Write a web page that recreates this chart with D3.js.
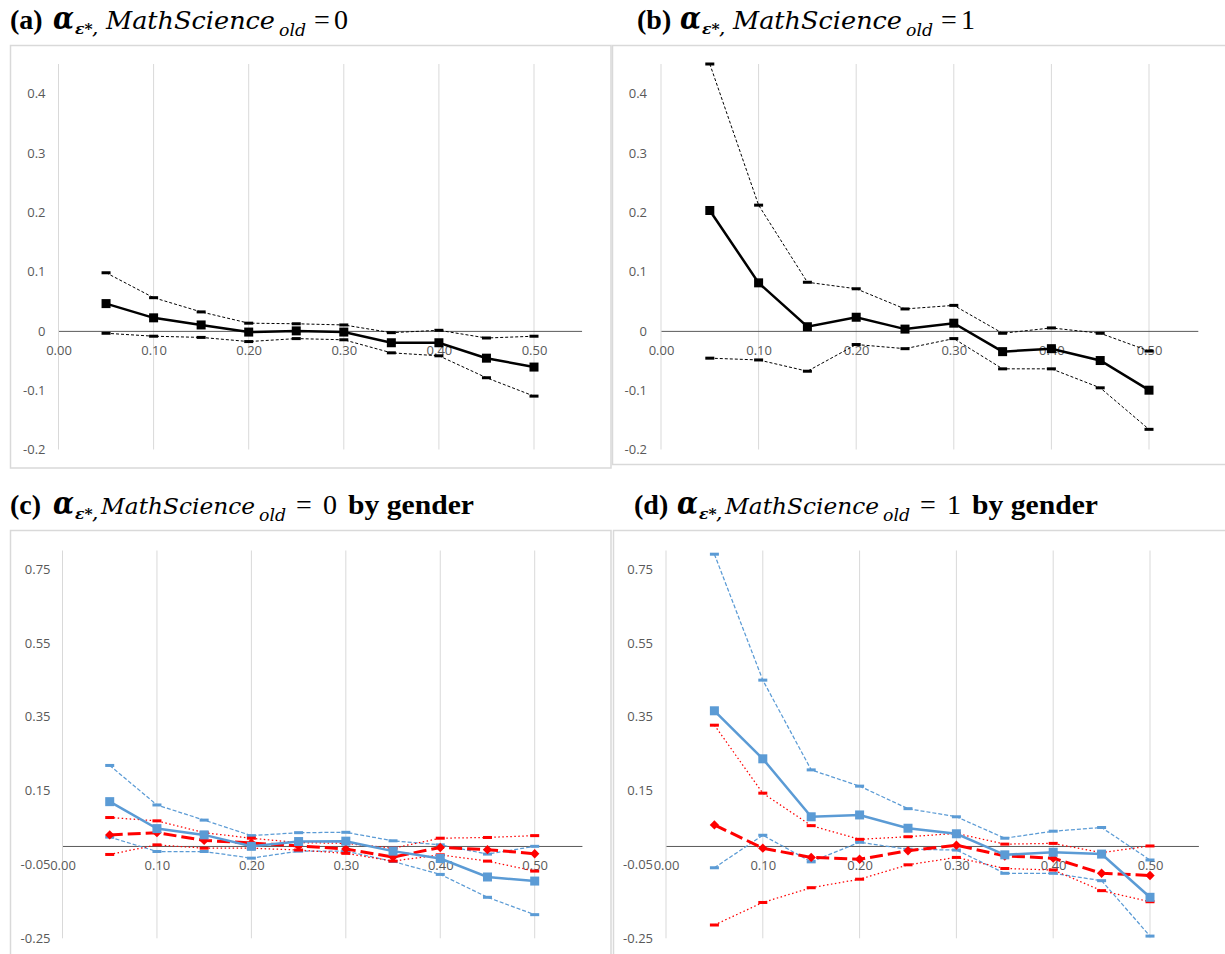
<!DOCTYPE html>
<html>
<head>
<meta charset="utf-8">
<script src="https://cdn.jsdelivr.net/npm/d3@7"></script>
<style>
  body { margin: 0; background: #fff; }
  .tick text { font-family: "Open Sans", sans-serif; font-size: 13px; fill: #595959; }
  .ttl { font-family: "Liberation Serif", serif; fill: #000; }
</style>
</head>
<body>
<script>
// x positions of the points and the axis ticks
var xVals = [0.05, 0.10, 0.15, 0.20, 0.25, 0.30, 0.35, 0.40, 0.45, 0.50];
var xTicks = [0, 0.1, 0.2, 0.3, 0.4, 0.5];
var yTicksAB = [-0.2, -0.1, 0, 0.1, 0.2, 0.3, 0.4];
var yTicksCD = [-0.25, -0.05, 0.15, 0.35, 0.55, 0.75];

// (a) MathScience_old = 0
var aMain  = [0.046, 0.022, 0.010, -0.002, 0.000, -0.002, -0.020, -0.020, -0.046, -0.061];
var aUpper = [0.098, 0.056, 0.032, 0.013, 0.012, 0.010, -0.003, 0.001, -0.012, -0.009];
var aLower = [-0.004, -0.009, -0.011, -0.018, -0.013, -0.015, -0.037, -0.042, -0.079, -0.110];

// (b) MathScience_old = 1
var bMain  = [0.203, 0.081, 0.007, 0.023, 0.003, 0.013, -0.035, -0.030, -0.050, -0.100];
var bUpper = [0.450, 0.212, 0.082, 0.071, 0.037, 0.043, -0.004, 0.005, -0.004, -0.034];
var bLower = [-0.046, -0.049, -0.068, -0.023, -0.030, -0.013, -0.064, -0.064, -0.096, -0.166];

// (c) by gender, MathScience_old = 0
var cBlue   = [0.120, 0.047, 0.030, -0.001, 0.012, 0.013, -0.014, -0.034, -0.084, -0.095];
var cBlueUp = [0.218, 0.111, 0.070, 0.028, 0.036, 0.037, 0.014, 0.003, -0.022, -0.001];
var cBlueLo = [0.024, -0.015, -0.015, -0.033, -0.014, -0.014, -0.042, -0.077, -0.139, -0.186];
var cRed    = [0.030, 0.036, 0.015, 0.008, 0.000, -0.008, -0.030, -0.004, -0.010, -0.021];
var cRedUp  = [0.077, 0.068, 0.036, 0.021, 0.009, 0.007, -0.006, 0.021, 0.023, 0.028];
var cRedLo  = [-0.023, 0.003, -0.006, -0.006, -0.011, -0.020, -0.041, -0.024, -0.041, -0.068];

// (d) by gender, MathScience_old = 1
var dBlue   = [0.366, 0.236, 0.079, 0.084, 0.048, 0.033, -0.024, -0.017, -0.022, -0.139];
var dBlueUp = [0.790, 0.449, 0.206, 0.162, 0.101, 0.079, 0.021, 0.040, 0.050, -0.038];
var dBlueLo = [-0.059, 0.029, -0.043, 0.010, -0.009, -0.011, -0.074, -0.074, -0.094, -0.244];
var dRed    = [0.057, -0.006, -0.031, -0.036, -0.013, 0.002, -0.027, -0.033, -0.074, -0.080];
var dRedUp  = [0.327, 0.143, 0.055, 0.018, 0.025, 0.034, 0.005, 0.007, -0.018, 0.000];
var dRedLo  = [-0.214, -0.153, -0.113, -0.090, -0.051, -0.031, -0.061, -0.065, -0.121, -0.151];

var BLUE = "#5b9bd5", RED = "#ff0000";

var svg = d3.select("body").append("svg")
            .attr("width", 1225)
            .attr("height", 954);

function drawPanel(cfg) {
  var x = d3.scaleLinear().domain([0, 0.55]).range([cfg.x0, cfg.x0 + cfg.xUnit * 0.55]),
      y = d3.scaleLinear().domain(cfg.yDomain).range(cfg.yRange),
      g = svg.append("g");

  // chart area frame
  g.append("rect")
   .attr("x", cfg.box[0]).attr("y", cfg.box[1])
   .attr("width", cfg.box[2]).attr("height", cfg.box[3])
   .attr("fill", "none").attr("stroke", "#d9d9d9").attr("stroke-width", 1.5);

  // vertical gridlines
  g.selectAll(".grid")
   .data(xTicks)
   .enter()
   .append("line")
   .attr("x1", function(d) { return x(d); })
   .attr("x2", function(d) { return x(d); })
   .attr("y1", y(cfg.yDomain[1]))
   .attr("y2", y(cfg.yDomain[0]))
   .attr("stroke", "#d9d9d9").attr("stroke-width", 1);

  // y labels
  var yAxis = g.append("g")
    .attr("transform", "translate(" + cfg.x0 + ",0)")
    .call(d3.axisLeft(y).tickValues(cfg.yTicks).tickSize(0).tickPadding(cfg.yPad)
            .tickFormat(cfg.yFmt));
  yAxis.select(".domain").remove();

  // horizontal axis through zero
  var xAxis = g.append("g")
    .attr("transform", "translate(0," + y(0) + ")")
    .call(d3.axisBottom(x).tickValues(xTicks).tickSize(0).tickPadding(15)
            .tickFormat(function(d) { return d.toFixed(2); }));
  xAxis.select(".domain").attr("stroke", "#595959").attr("stroke-width", 1);

  var line = d3.line()
    .x(function(d, i) { return x(xVals[i]); })
    .y(function(d) { return y(d); });

  cfg.series.forEach(function(s) {
    g.append("path")
     .attr("d", line(s.values))
     .attr("fill", "none")
     .attr("stroke", s.color)
     .attr("stroke-width", s.width)
     .attr("stroke-dasharray", s.dash || null);

    var m = g.selectAll(null).data(s.values).enter();
    if (s.marker == "square") {
      m.append("rect")
       .attr("x", function(d, i) { return x(xVals[i]) - 4.5; })
       .attr("y", function(d) { return y(d) - 4.5; })
       .attr("width", 9).attr("height", 9)
       .attr("fill", s.color);
    } else if (s.marker == "diamond") {
      m.append("path")
       .attr("d", d3.symbol(d3.symbolSquare, 44)())
       .attr("transform", function(d, i) {
         return "translate(" + x(xVals[i]) + "," + y(d) + ") rotate(45)";
       })
       .attr("fill", s.color);
    } else {
      m.append("rect")
       .attr("x", function(d, i) { return x(xVals[i]) - 4.5; })
       .attr("y", function(d) { return y(d) - 1.5; })
       .attr("width", 9).attr("height", 3)
       .attr("fill", s.color);
    }
  });
}

function fmtAB(d) { return d === 0 ? "0" : d.toFixed(1); }
function fmtCD(d) { return d.toFixed(2); }

drawPanel({
  box: [10.5, 45.5, 600.5, 422.5], x0: 58.5, xUnit: 951,
  yDomain: [-0.2, 0.45], yRange: [449.5, 64], yTicks: yTicksAB, yFmt: fmtAB, yPad: 13,
  series: [
    {values: aUpper, color: "#000", width: 1, dash: "3,2", marker: "dash"},
    {values: aLower, color: "#000", width: 1, dash: "3,2", marker: "dash"},
    {values: aMain, color: "#000", width: 2.5, marker: "square"}
  ]
});

drawPanel({
  box: [612.5, 45.5, 640, 419], x0: 661, xUnit: 976,
  yDomain: [-0.2, 0.45], yRange: [449.5, 64], yTicks: yTicksAB, yFmt: fmtAB, yPad: 14,
  series: [
    {values: bUpper, color: "#000", width: 1, dash: "3,2", marker: "dash"},
    {values: bLower, color: "#000", width: 1, dash: "3,2", marker: "dash"},
    {values: bMain, color: "#000", width: 2.5, marker: "square"}
  ]
});

drawPanel({
  box: [10.5, 530.5, 600.5, 500], x0: 62.5, xUnit: 944.4,
  yDomain: [-0.25, 0.80], yRange: [938.3, 550.5], yTicks: yTicksCD, yFmt: fmtCD, yPad: 12,
  series: [
    {values: cBlueUp, color: BLUE, width: 1.25, dash: "4,2", marker: "dash"},
    {values: cBlueLo, color: BLUE, width: 1.25, dash: "4,2", marker: "dash"},
    {values: cRedUp, color: RED, width: 1.25, dash: "1.5,2.5", marker: "dash"},
    {values: cRedLo, color: RED, width: 1.25, dash: "1.5,2.5", marker: "dash"},
    {values: cRed, color: RED, width: 3, dash: "13,5", marker: "diamond"},
    {values: cBlue, color: BLUE, width: 2.5, marker: "square"}
  ]
});

drawPanel({
  box: [613.5, 530.5, 640, 500], x0: 666, xUnit: 968,
  yDomain: [-0.25, 0.80], yRange: [938.3, 550.5], yTicks: yTicksCD, yFmt: fmtCD, yPad: 13,
  series: [
    {values: dBlueUp, color: BLUE, width: 1.25, dash: "4,2", marker: "dash"},
    {values: dBlueLo, color: BLUE, width: 1.25, dash: "4,2", marker: "dash"},
    {values: dRedUp, color: RED, width: 1.25, dash: "1.5,2.5", marker: "dash"},
    {values: dRedLo, color: RED, width: 1.25, dash: "1.5,2.5", marker: "dash"},
    {values: dRed, color: RED, width: 3, dash: "13,5", marker: "diamond"},
    {values: dBlue, color: BLUE, width: 2.5, marker: "square"}
  ]
});

// panel titles: one text element per title, pieces as tspans
function drawTitle(base, parts) {
  var t = svg.append("text").attr("class", "ttl").attr("y", base);
  parts.forEach(function(p) {
    var s = t.append("tspan")
      .attr("x", p.x)
      .attr("y", base + (p.dy || 0))
      .style("font-size", p.size + "px")
      .style("font-weight", p.bold ? "bold" : "normal")
      .style("font-style", p.italic ? "italic" : "normal")
      .style("font-family", p.font || null)
      .text(p.t);
    if (p.w) s.attr("textLength", p.w).attr("lengthAdjust", "spacingAndGlyphs");
  });
}

function titleParts(x, label, val, msW, gender) {
  var wide = msW > 160;
  var parts = [
    {t: label, x: x, size: 28, bold: true},
    {t: "\u03b1", x: x + 43, size: 31, bold: true, italic: true, font: "DejaVu Serif", w: 21},
    {t: "\u03b5*,", x: x + 65, size: 15, bold: true, italic: true, font: "DejaVu Serif", dy: 5, w: 23},
    {t: "MathScience", x: x + (wide ? 96 : 91), size: wide ? 24.5 : 22, italic: true, font: "DejaVu Serif", w: msW - 2}
  ];
  var ox = parts[3].x + msW;
  parts.push({t: "old", x: ox + 2, size: wide ? 17 : 16, italic: true, font: "DejaVu Serif", dy: 7, w: 27});
  parts.push({t: "=", x: ox + (wide ? 37 : 39), size: 28});
  parts.push({t: val, x: ox + (wide ? 57 : 66), size: 28});
  if (gender) parts.push({t: "by gender", x: ox + 91, size: 28, bold: true, w: 126});
  return parts;
}

drawTitle(29, titleParts(10, "(a)", "0", 171, false));
drawTitle(29, titleParts(637, "(b)", "1", 171, false));
drawTitle(514, titleParts(10, "(c)", "0", 156, true));
drawTitle(514, titleParts(634, "(d)", "1", 156, true));
</script>
</body>
</html>
